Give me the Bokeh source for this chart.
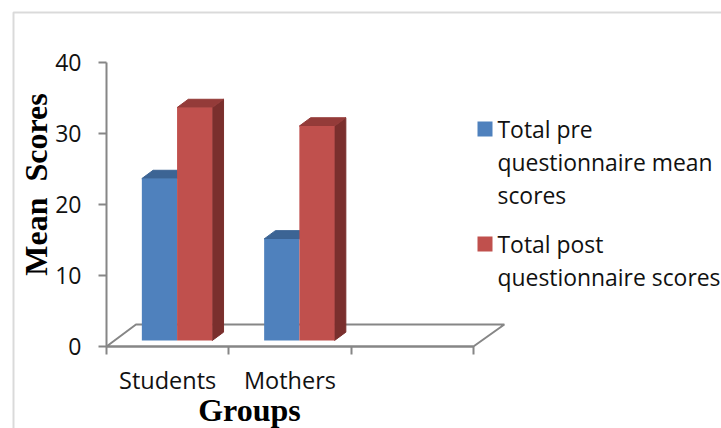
from bokeh.plotting import figure
from bokeh.embed import file_html
from bokeh.resources import INLINE
from bokeh.models import (Range1d, FixedTicker, LinearAxis, Label, BoxAnnotation, PolyAnnotation)

categories = ["Students", "Mothers"]
pre_scores = [22.8, 14.3]
post_scores = [32.8, 30.2]
y_ticks = [0, 10, 20, 30, 40]
x_ticks = [0, 1, 2, 3]
legend_pre = ["Total pre", "questionnaire mean", "scores"]
legend_post = ["Total post", "questionnaire scores"]

BLUE, BLUE_TOP = "#4F81BD", "#3C6494"
RED, RED_TOP, RED_SIDE = "#C0504D", "#943B39", "#7A2F2D"
GRAY = "#868686"
SANS = "Open Sans"
SERIF = "Liberation Serif"

W, H = 721, 428
LEFT, BOTTOM = 106, 346
SX, SY = 122.3, 7.1
def X(px): return (px - LEFT) / SX
def Y(py): return (BOTTOM - py) / SY

p = figure(width=W, height=H, output_backend="svg", toolbar_location=None,
           x_range=Range1d(X(0), X(W)), y_range=Range1d(Y(H), Y(0)),
           min_border=0,
           x_axis_type=None, y_axis_type=None, outline_line_color=None, background_fill_color="white")
p.grid.visible = False

# floor
p.patch([0, 0.241, 3.253, 3], [0, 3.1, 3.1, 0], fill_color="white",
        line_color=GRAY, line_width=2)

# y axis
ya = LinearAxis(ticker=FixedTicker(ticks=y_ticks), bounds=(0, 40), fixed_location=0)
ya.axis_line_color = GRAY; ya.axis_line_width = 2
ya.major_tick_line_color = GRAY; ya.major_tick_line_width = 2
ya.major_tick_in = 0; ya.major_tick_out = 8
ya.minor_tick_line_color = None
ya.major_label_text_font = SANS; ya.major_label_text_font_size = "23px"
ya.major_label_text_color = "#111111"; ya.major_label_standoff = 17
p.add_layout(ya, "left")

# x axis: ticks between categories, no labels of its own
xa = LinearAxis(ticker=FixedTicker(ticks=x_ticks), bounds=(0, 3), fixed_location=0,
                major_label_overrides={t: "" for t in x_ticks})
xa.axis_line_color = GRAY; xa.axis_line_width = 2
xa.major_tick_line_color = GRAY; xa.major_tick_line_width = 2
xa.major_tick_in = 0; xa.major_tick_out = 8
xa.minor_tick_line_color = None
p.add_layout(xa, "below")

# x axis: category labels
centers = [i + 0.5 for i in range(len(categories))]
xb = LinearAxis(ticker=FixedTicker(ticks=centers), fixed_location=0,
                major_label_overrides={c: n for c, n in zip(centers, categories)})
xb.axis_line_color = None; xb.major_tick_line_color = None; xb.minor_tick_line_color = None
xb.major_tick_in = 0; xb.major_tick_out = 0
xb.major_label_text_font = SANS; xb.major_label_text_font_size = "23.5px"
xb.major_label_text_color = "#111111"; xb.major_label_standoff = 17
p.add_layout(xb, "below")

# 3D bars
base, bw, off, dx, dy = 0.85, 0.288, 0.289, 0.092, 1.17
n = range(len(categories))
xl_pre = [i + off for i in n]
xl_post = [i + off + bw for i in n]

p.patches([[l, l + dx, l + bw + dx, l + bw] for l in xl_pre],
          [[base + v, base + v + dy, base + v + dy, base + v] for v in pre_scores],
          fill_color=BLUE_TOP, line_color=BLUE_TOP)
p.vbar(x=[l + bw / 2 for l in xl_pre], width=bw, bottom=base,
       top=[base + v for v in pre_scores], fill_color=BLUE, line_color=None)
p.patches([[l + bw, l + bw + dx, l + bw + dx, l + bw] for l in xl_post],
          [[base, base + dy, base + v + dy, base + v] for v in post_scores],
          fill_color=RED_SIDE, line_color=RED_SIDE)
p.patches([[l, l + dx, l + bw + dx, l + bw] for l in xl_post],
          [[base + v, base + v + dy, base + v + dy, base + v] for v in post_scores],
          fill_color=RED_TOP, line_color=RED_TOP)
p.vbar(x=[l + bw / 2 for l in xl_post], width=bw, bottom=base,
       top=[base + v for v in post_scores], fill_color=RED, line_color=None)

# outer chart border
p.add_layout(PolyAnnotation(xs=[X(13), X(13), X(900), X(900)], ys=[Y(700), Y(12), Y(12), Y(700)],
                            fill_alpha=0, line_color=GRAY, line_width=2))

# axis titles
p.add_layout(Label(x=X(35), y=Y(184), text="Mean\u00a0 Scores", angle=90,
                   angle_units="deg", text_font=SERIF, text_font_style="bold", text_font_size="32px",
                   text_align="center", text_baseline="middle", text_color="#000000"))
p.add_layout(Label(x=X(249), y=Y(409), text="Groups",
                   text_font=SERIF, text_font_style="bold", text_font_size="32px",
                   text_align="center", text_baseline="middle", text_color="#000000"))

# legend
for top, color in ((121, BLUE), (236, RED)):
    p.add_layout(BoxAnnotation(left=X(477), right=X(492), top=Y(top), bottom=Y(top + 15),
                               fill_color=color, fill_alpha=1, line_color=None))
for lines, y0 in ((legend_pre, 129), (legend_post, 244)):
    for i, t in enumerate(lines):
        p.add_layout(Label(x=X(497), y=Y(y0 + i * 33), text=t,
                           text_font=SANS, text_font_size="22.9px", text_color="#111111",
                           text_align="left", text_baseline="middle"))

open("out.html", "w").write(file_html(p, INLINE))
